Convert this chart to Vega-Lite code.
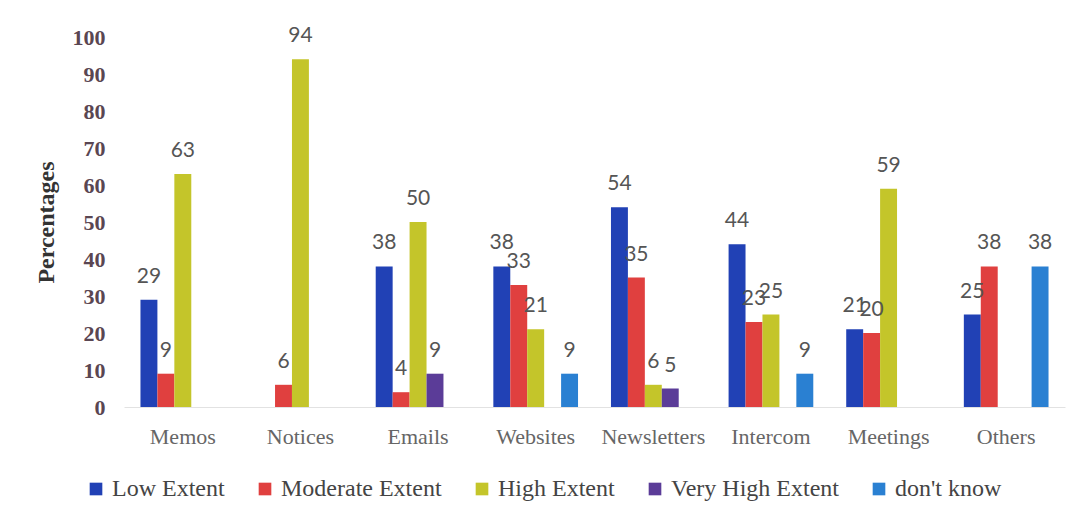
{
  "$schema": "https://vega.github.io/schema/vega-lite/v6.json",
  "width": 941,
  "height": 370,
  "autosize": {"type": "none"},
  "padding": {"left": 124, "top": 37, "right": 26, "bottom": 114},
  "background": "white",
  "config": {"view": {"stroke": null}},
  "data": {
    "values": [
      {"Category": "Memos", "Series": "Low Extent", "Value": 29},
      {"Category": "Memos", "Series": "Moderate Extent", "Value": 9},
      {"Category": "Memos", "Series": "High Extent", "Value": 63},
      {"Category": "Notices", "Series": "Moderate Extent", "Value": 6},
      {"Category": "Notices", "Series": "High Extent", "Value": 94},
      {"Category": "Emails", "Series": "Low Extent", "Value": 38},
      {"Category": "Emails", "Series": "Moderate Extent", "Value": 4},
      {"Category": "Emails", "Series": "High Extent", "Value": 50},
      {"Category": "Emails", "Series": "Very High Extent", "Value": 9},
      {"Category": "Websites", "Series": "Low Extent", "Value": 38},
      {"Category": "Websites", "Series": "Moderate Extent", "Value": 33},
      {"Category": "Websites", "Series": "High Extent", "Value": 21},
      {"Category": "Websites", "Series": "don't know", "Value": 9},
      {"Category": "Newsletters", "Series": "Low Extent", "Value": 54},
      {"Category": "Newsletters", "Series": "Moderate Extent", "Value": 35},
      {"Category": "Newsletters", "Series": "High Extent", "Value": 6},
      {"Category": "Newsletters", "Series": "Very High Extent", "Value": 5},
      {"Category": "Intercom", "Series": "Low Extent", "Value": 44},
      {"Category": "Intercom", "Series": "Moderate Extent", "Value": 23},
      {"Category": "Intercom", "Series": "High Extent", "Value": 25},
      {"Category": "Intercom", "Series": "don't know", "Value": 9},
      {"Category": "Meetings", "Series": "Low Extent", "Value": 21},
      {"Category": "Meetings", "Series": "Moderate Extent", "Value": 20},
      {"Category": "Meetings", "Series": "High Extent", "Value": 59},
      {"Category": "Others", "Series": "Low Extent", "Value": 25},
      {"Category": "Others", "Series": "Moderate Extent", "Value": 38},
      {"Category": "Others", "Series": "don't know", "Value": 38}
    ]
  },
  "encoding": {
    "x": {
      "field": "Category",
      "type": "nominal",
      "sort": ["Memos", "Notices", "Emails", "Websites", "Newsletters", "Intercom", "Meetings", "Others"],
      "scale": {"paddingInner": 0.28, "paddingOuter": 0.14},
      "axis": {
        "title": null,
        "labelAngle": 0,
        "labelFont": "Liberation Serif",
        "labelFontSize": 22,
        "labelColor": "#666666",
        "labelPadding": 19,
        "ticks": false,
        "domainColor": "#e2e2e2",
        "domainWidth": 1
      }
    },
    "xOffset": {
      "field": "Series",
      "type": "nominal",
      "scale": {"domain": ["Low Extent", "Moderate Extent", "High Extent", "Very High Extent", "don't know"], "paddingInner": 0, "paddingOuter": 0}
    },
    "y": {
      "field": "Value",
      "type": "quantitative",
      "scale": {"domain": [0, 100]},
      "axis": {
        "title": "Percentages",
        "titleFont": "Liberation Serif",
        "titleFontSize": 24,
        "titleFontWeight": "bold",
        "titleColor": "#333333",
        "titlePadding": 14,
        "values": [0, 10, 20, 30, 40, 50, 60, 70, 80, 90, 100],
        "labelFont": "Liberation Serif",
        "labelFontSize": 22,
        "labelFontWeight": "bold",
        "labelColor": "#5a4652",
        "labelPadding": 19,
        "ticks": false,
        "domain": false,
        "grid": false
      }
    }
  },
  "layer": [
    {
      "mark": {"type": "bar"},
      "encoding": {
        "color": {
          "field": "Series",
          "type": "nominal",
          "scale": {
            "domain": ["Low Extent", "Moderate Extent", "High Extent", "Very High Extent", "don't know"],
            "range": ["#2141b5", "#e0403f", "#c4c52a", "#5b3c98", "#2a80d2"]
          },
          "legend": {
            "title": null,
            "orient": "none",
            "direction": "horizontal",
            "legendX": -40,
            "legendY": 440,
            "symbolType": "square",
            "symbolSize": 160,
            "symbolStrokeWidth": 0,
            "labelFont": "Liberation Serif",
            "labelFontSize": 24,
            "labelColor": "#444444",
            "labelOffset": 4,
            "labelLimit": 400,
            "columnPadding": 28
          }
        }
      }
    },
    {
      "mark": {"type": "text", "baseline": "alphabetic", "dy": -17, "font": "Lato", "fontSize": 21, "color": "#555555"},
      "encoding": {
        "text": {"field": "Value", "type": "quantitative"}
      }
    }
  ]
}
